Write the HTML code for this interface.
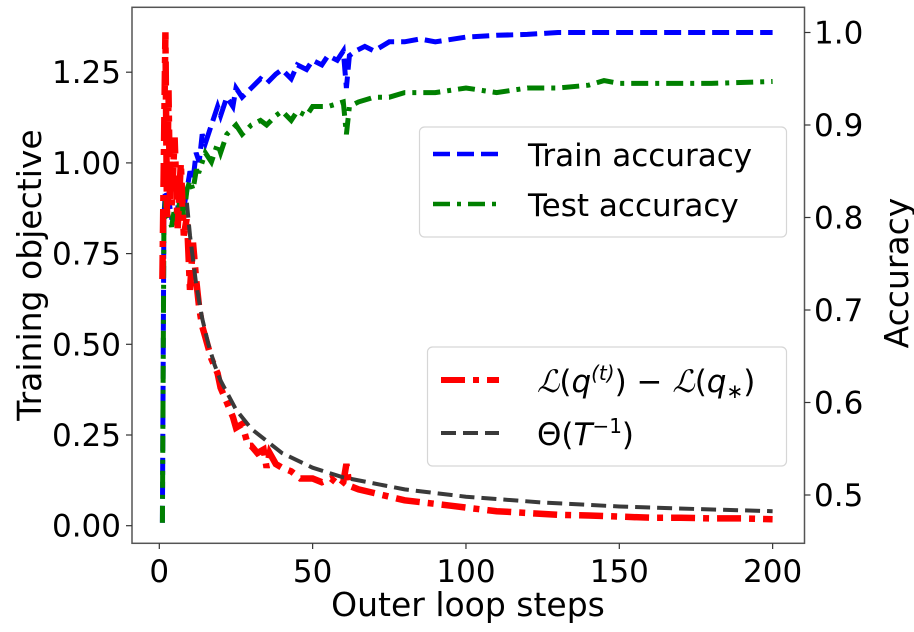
<!DOCTYPE html>
<html><head><meta charset="utf-8"><style>
body{margin:0;background:#fff;}
svg{display:block;font-family:"DejaVu Sans","Liberation Sans",sans-serif;}
</style></head><body>
<svg id="chart" width="914" height="632" viewBox="0 0 914 632">
<defs><clipPath id="clip"><rect x="132" y="7.3" width="672.5" height="536"/></clipPath></defs>
<rect x="0" y="0" width="914" height="632" fill="#fff"/>
<g id="marks" clip-path="url(#clip)"></g>
<g id="axes"></g>
</svg>
<script>
const stepTicks = [0, 50, 100, 150, 200];
const lossTicks = [0, 0.25, 0.5, 0.75, 1.0, 1.25];
const lossTickLabels = ["0.00","0.25","0.50","0.75","1.00","1.25"];
const accTicks = [0.5, 0.6, 0.7, 0.8, 0.9, 1.0];
const accTickLabels = ["0.5","0.6","0.7","0.8","0.9","1.0"];

const lossX = [1,2,2.5,3,3.5,4,5,6,7,8,9,10,11,12,13,14,15,17,19,20,22,24,25,27,29,30,32,34,35,36,38,40,43,46,50,53,56,59,60,61,62,65,70,75,80,85,90,95,100,110,120,130,140,150,160,170,180,190,200];
const lossY = [0.68,1.36,0.85,1.2,0.9,0.88,1.07,0.82,1.0,0.8,0.85,0.65,0.78,0.68,0.6,0.55,0.52,0.46,0.42,0.38,0.34,0.3,0.27,0.28,0.22,0.22,0.2,0.21,0.16,0.2,0.17,0.16,0.15,0.13,0.13,0.12,0.13,0.11,0.12,0.17,0.11,0.1,0.09,0.08,0.07,0.065,0.06,0.055,0.05,0.04,0.035,0.03,0.028,0.025,0.022,0.022,0.02,0.02,0.018];

const theoryX = [9,10,12,14,16,18,20,25,30,40,50,60,80,100,125,150,175,200];
const theoryY = [0.89,0.8,0.667,0.571,0.5,0.444,0.4,0.32,0.267,0.2,0.16,0.133,0.1,0.08,0.064,0.053,0.046,0.04];

const trainX = [1,1.5,2,3,4,5,6,7,8,9,10,11,12,13,14,15,17,19,20,22,24,25,27,30,33,35,38,40,43,45,48,50,53,55,58,60,61,62,64,67,70,75,80,85,90,100,110,120,130,150,170,200];
const trainY = [0.47,0.8,0.83,0.82,0.8,0.8,0.81,0.84,0.81,0.83,0.85,0.84,0.87,0.86,0.89,0.88,0.9,0.92,0.91,0.93,0.92,0.94,0.93,0.94,0.95,0.945,0.955,0.96,0.95,0.965,0.96,0.97,0.965,0.975,0.97,0.98,0.94,0.975,0.98,0.985,0.98,0.99,0.99,0.993,0.99,0.995,0.997,0.998,1.0,1.0,1.0,1.0];

const testX = [1,1.5,2,3,4,5,6,7,8,9,10,11,12,13,15,17,19,20,22,25,27,30,33,35,38,40,43,45,48,50,55,60,61,62,65,70,75,80,90,100,110,120,130,140,145,150,160,180,200];
const testY = [0.47,0.79,0.82,0.8,0.79,0.81,0.8,0.83,0.8,0.83,0.84,0.83,0.85,0.85,0.87,0.86,0.88,0.87,0.89,0.9,0.89,0.9,0.905,0.9,0.91,0.915,0.905,0.915,0.91,0.92,0.92,0.925,0.89,0.92,0.925,0.93,0.93,0.935,0.935,0.94,0.935,0.94,0.94,0.943,0.948,0.945,0.945,0.945,0.947];

const NS = "http://www.w3.org/2000/svg";
function xs(v){ return 159.3 + v * 3.0667; }
function yl(v){ return 525.7 - v * 362.8; }
function yr(v){ return 495 - (v - 0.5) * 925; }
function mk(tag, attrs, parent){
  const e = document.createElementNS(NS, tag);
  for (const k in attrs) e.setAttribute(k, attrs[k]);
  parent.appendChild(e);
  return e;
}
const marks = document.getElementById('marks');
const axes = document.getElementById('axes');
function pts(X, Y, f){ return X.map((x,i)=> xs(x).toFixed(1)+','+f(Y[i]).toFixed(1)).join(' '); }

let l;
l = mk('polyline', {points: pts(trainX, trainY, yr), fill:'none', stroke:'#0000ff', 'stroke-width':5, 'stroke-dasharray':'17,7'}, marks);


l = mk('polyline', {points: pts(testX, testY, yr), fill:'none', stroke:'#008000', 'stroke-width':5, 'stroke-dasharray':'17,7,4,7'}, marks);


l = mk('polyline', {points: pts(lossX, lossY, yl), fill:'none', stroke:'#ff0000', 'stroke-width':6.5, 'stroke-dasharray':'24,8,6,8'}, marks);


l = mk('polyline', {points: pts(theoryX, theoryY, yl), fill:'none', stroke:'#3a3a3a', 'stroke-width':4, 'stroke-dasharray':'15,7'}, marks);



const frame = mk('rect', {x:132, y:7.3, width:672.5, height:536, fill:'none', stroke:'#555', 'stroke-width':1.5}, axes);



stepTicks.forEach(v=>{
  mk('line',{x1:xs(v),x2:xs(v),y1:543.3,y2:549,stroke:'#333','stroke-width':1.2},axes);
  const t = mk('text',{x:xs(v),y:582,'font-size':31,'text-anchor':'middle',fill:'#000'},axes);
  t.textContent = v;
  
  
});
lossTicks.forEach((v,i)=>{
  mk('line',{x1:126,x2:132,y1:yl(v),y2:yl(v),stroke:'#333','stroke-width':1.2},axes);
  const t = mk('text',{x:121,y:yl(v)+11,'font-size':31,'text-anchor':'end',fill:'#000'},axes);
  t.textContent = lossTickLabels[i];
  
  
});
accTicks.forEach((v,i)=>{
  mk('line',{x1:804.5,x2:810.5,y1:yr(v),y2:yr(v),stroke:'#333','stroke-width':1.2},axes);
  const t = mk('text',{x:814,y:yr(v)+11,'font-size':31,'text-anchor':'start',fill:'#000'},axes);
  t.textContent = accTickLabels[i];
  
  
});
let t;
t = mk('text',{x:468,y:616,'font-size':33,'text-anchor':'middle',fill:'#000'},axes);
t.textContent = 'Outer loop steps';


t = mk('text',{x:0,y:0,'font-size':33,'text-anchor':'middle',fill:'#000',transform:'translate(41,275) rotate(-90)'},axes);
t.textContent = 'Training objective';


t = mk('text',{x:0,y:0,'font-size':33,'text-anchor':'middle',fill:'#000',transform:'translate(908,273) rotate(-90)'},axes);
t.textContent = 'Accuracy';



// legends
let g = mk('g',{},axes);


mk('rect',{x:419.5,y:127,width:367,height:110,rx:5,fill:'rgba(255,255,255,0.85)',stroke:'#d6d6d6','stroke-width':1.2},g);
mk('line',{x1:433,x2:501,y1:154,y2:154,stroke:'#0000ff','stroke-width':4.5,'stroke-dasharray':'17,7'},g);
t = mk('text',{x:528,y:166,'font-size':31,fill:'#000'},g); t.textContent='Train accuracy';


mk('line',{x1:433,x2:501,y1:204,y2:204,stroke:'#008000','stroke-width':4.5,'stroke-dasharray':'17,7,4,7'},g);
t = mk('text',{x:528,y:216,'font-size':31,fill:'#000'},g); t.textContent='Test accuracy';



g = mk('g',{},axes);


mk('rect',{x:427.5,y:347,width:359,height:119,rx:5,fill:'rgba(255,255,255,0.85)',stroke:'#d6d6d6','stroke-width':1.2},g);
mk('line',{x1:441,x2:499,y1:380,y2:380,stroke:'#ff0000','stroke-width':6,'stroke-dasharray':'24,8,6,8'},g);
t = mk('text',{x:537,y:392,'font-size':31,fill:'#000','font-style':'normal'},g);
t.innerHTML = '<tspan font-family="DejaVu Serif" font-style="italic">ℒ</tspan>(<tspan font-style="italic">q</tspan><tspan dy="-12" font-size="20" font-style="italic">(t)</tspan><tspan dy="12">) − </tspan><tspan font-family="DejaVu Serif" font-style="italic">ℒ</tspan>(<tspan font-style="italic">q</tspan><tspan dy="6" font-size="20">∗</tspan><tspan dy="-6">)</tspan>';


mk('line',{x1:441,x2:499,y1:433,y2:433,stroke:'#3a3a3a','stroke-width':4,'stroke-dasharray':'15,7'},g);
t = mk('text',{x:537,y:445,'font-size':31,fill:'#000'},g);
t.innerHTML = 'Θ(<tspan font-style="italic">T</tspan><tspan dy="-12" font-size="20">−1</tspan><tspan dy="12">)</tspan>';


</script>
</body></html>
